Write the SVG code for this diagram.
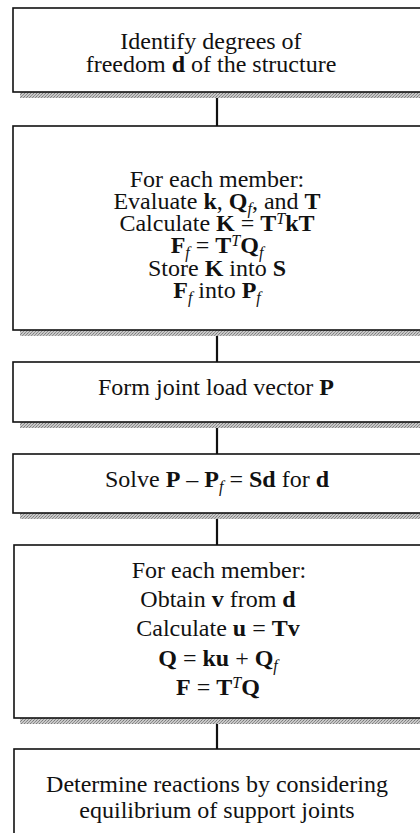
<svg xmlns="http://www.w3.org/2000/svg" width="420" height="833" viewBox="0 0 420 833">
<defs>
<pattern id="dither" width="3" height="3" patternUnits="userSpaceOnUse">
<rect width="3" height="3" fill="#c8c8c8"/>
<rect x="0" y="0" width="1" height="1" fill="#7a7a7a"/>
<rect x="2" y="1" width="1" height="1" fill="#8a8a8a"/>
<rect x="1" y="2" width="1" height="1" fill="#909090"/>
</pattern>
</defs>
<style>
.box{fill:#fff;stroke:#111;stroke-width:1.6}
.sh{fill:url(#dither)}
.conn{stroke:#111;stroke-width:2.2;fill:none}
text{font-family:"Liberation Serif","Times New Roman",serif;font-size:24px;fill:#111;text-anchor:middle}
.b{font-weight:bold}
.sub{font-style:italic;font-size:16px;font-weight:normal}
.sup{font-style:italic;font-size:16px;font-weight:normal}
</style>
<rect width="420" height="833" fill="#fff"/>
<g id="connectors">
<line class="conn" x1="217" y1="97" x2="217" y2="126"/>
<line class="conn" x1="217" y1="335" x2="217" y2="362"/>
<line class="conn" x1="217" y1="427" x2="217" y2="454"/>
<line class="conn" x1="217" y1="518" x2="217" y2="545"/>
<line class="conn" x1="217" y1="723" x2="217" y2="749"/>
</g>
<g id="n1">
<rect class="sh" x="20" y="92" width="410" height="6"/>
<rect class="box" x="13" y="8" width="420" height="84"/>
<text x="211" y="49">Identify degrees of</text>
<text x="211" y="72">freedom <tspan class="b">d</tspan> of the structure</text>
</g>
<g id="n2">
<rect class="sh" x="20" y="330" width="410" height="6"/>
<rect class="box" x="13" y="126" width="420" height="204"/>
<text x="217" y="187">For each member:</text>
<text x="217" y="209">Evaluate <tspan class="b">k</tspan>, <tspan class="b">Q</tspan><tspan class="sub" dy="5">f</tspan><tspan dy="-5">, and </tspan><tspan class="b">T</tspan></text>
<text x="217" y="231">Calculate <tspan class="b">K</tspan> = <tspan class="b">T</tspan><tspan class="sup" dy="-7">T</tspan><tspan class="b" dy="7">kT</tspan></text>
<text x="217" y="253"><tspan class="b">F</tspan><tspan class="sub" dy="5">f</tspan><tspan dy="-5"> = </tspan><tspan class="b">T</tspan><tspan class="sup" dy="-7">T</tspan><tspan class="b" dy="7">Q</tspan><tspan class="sub" dy="5">f</tspan></text>
<text x="217" y="276">Store <tspan class="b">K</tspan> into <tspan class="b">S</tspan></text>
<text x="217" y="298"><tspan class="b">F</tspan><tspan class="sub" dy="5">f</tspan><tspan dy="-5"> into </tspan><tspan class="b">P</tspan><tspan class="sub" dy="5">f</tspan></text>
</g>
<g id="n3">
<rect class="sh" x="20" y="422" width="410" height="6"/>
<rect class="box" x="13" y="362" width="420" height="60"/>
<text x="216" y="395">Form joint load vector <tspan class="b">P</tspan></text>
</g>
<g id="n4">
<rect class="sh" x="20" y="513" width="410" height="6"/>
<rect class="box" x="13" y="454" width="420" height="59"/>
<text x="217" y="487">Solve <tspan class="b">P</tspan> – <tspan class="b">P</tspan><tspan class="sub" dy="5">f</tspan><tspan dy="-5"> = </tspan><tspan class="b">Sd</tspan> for <tspan class="b">d</tspan></text>
</g>
<g id="n5">
<rect class="sh" x="20" y="718" width="410" height="6"/>
<rect class="box" x="14" y="545" width="420" height="173"/>
<text x="219" y="578">For each member:</text>
<text x="218" y="607">Obtain <tspan class="b">v</tspan> from <tspan class="b">d</tspan></text>
<text x="218" y="636">Calculate <tspan class="b">u</tspan> = <tspan class="b">Tv</tspan></text>
<text x="218" y="666"><tspan class="b">Q</tspan> = <tspan class="b">ku</tspan> + <tspan class="b">Q</tspan><tspan class="sub" dy="5">f</tspan></text>
<text x="218" y="695"><tspan class="b">F</tspan> = <tspan class="b">T</tspan><tspan class="sup" dy="-7">T</tspan><tspan class="b" dy="7">Q</tspan></text>
</g>
<g id="n6">
<rect class="box" x="14" y="749" width="420" height="100"/>
<text x="217" y="792">Determine reactions by considering</text>
<text x="217" y="818">equilibrium of support joints</text>
</g>
</svg>
